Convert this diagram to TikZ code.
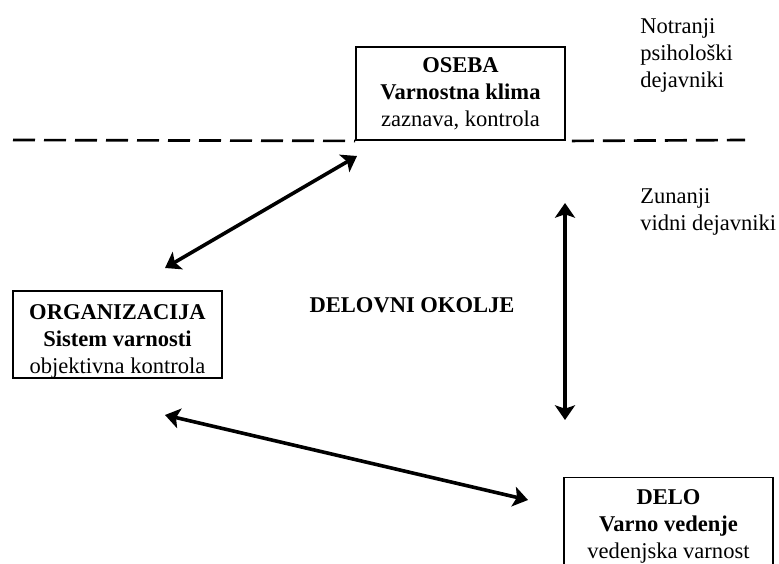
\documentclass[tikz,border=0pt]{standalone}
\usepackage{fontspec}
\setmainfont{Liberation Serif}
\usetikzlibrary{arrows.meta}
\begin{document}
\begin{tikzpicture}[x=0.75pt,y=-0.75pt,
  every node/.style={font=\fontsize{16.9pt}{20.25pt}\selectfont, inner sep=0pt},
  box/.style={draw, line width=1.4pt, align=center, minimum width=156.75pt},
  tip/.style={Stealth[length=11pt,width=15pt,inset=2.5pt]},
  link/.style={line width=2.7pt, {Stealth[length=11pt,width=15pt,inset=2.5pt]}-{Stealth[length=11pt,width=15pt,inset=2.5pt]}},
  divider/.style={line width=2pt, dash pattern=on 16.5pt off 6.75pt},
  note/.style={align=left, anchor=west}]
\clip (0,0) rectangle (779,564);
\fill[white] (0,0) rectangle (779,564);

% boxes
\node[box, minimum height=69.75pt] (oseba) at (460.5,93.5)
  {\textbf{OSEBA}\\ \textbf{Varnostna klima}\\ zaznava, kontrola};
\node[box, minimum height=63.75pt] (org) at (117.5,334.5)
  {\rule{0pt}{21.5pt}\textbf{ORGANIZACIJA}\\ \textbf{Sistem varnosti}\\ objektivna kontrola};
\node[box, minimum height=69.75pt] (delo) at (668.5,524)
  {\rule{0pt}{15pt}\textbf{DELO}\\ \textbf{Varno vedenje}\\ vedenjska varnost};

% centre label
\node (okolje) at (412,305) {\textbf{DELOVNI OKOLJE}};

% side notes
\node[note] (notr) at (640,55) {Notranji\\ psihološki\\ dejavniki};
\node[note] (zun) at (640,212) {Zunanji\\ vidni dejavniki};

% dashed divider
\coordinate (dl) at (13,140);
\coordinate (dr) at (745,140);
\draw[divider] (dl) -- (oseba.south west);
\draw[divider] (oseba.south east) ++(6,0) coordinate (dr0) -- (dr);

% arrows
\coordinate (a1s) at (165,268);
\coordinate (a1e) at (357,156);
\coordinate (a2s) at (165,415);
\coordinate (a2e) at (528,500);
\coordinate (a3s) at (565,203);
\coordinate (a3e) at (565,420);
\draw[link] (a1s) -- (a1e);
\draw[link] (a2s) -- (a2e);
\draw[link] (a3s) -- (a3e);
\end{tikzpicture}
\end{document}
